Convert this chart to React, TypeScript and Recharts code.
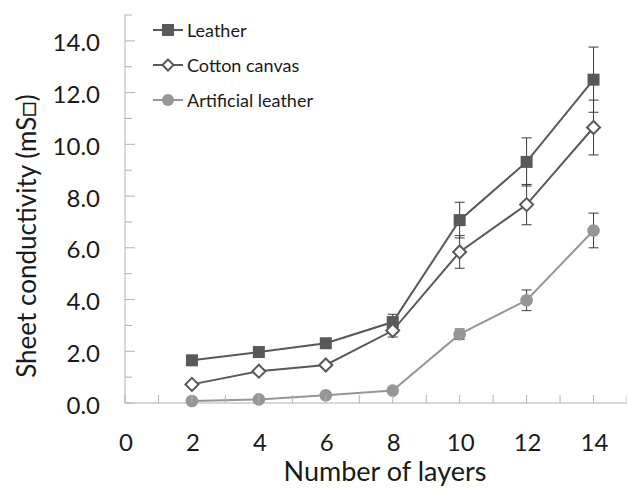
import React from "react";
import { LineChart, Line, XAxis, YAxis, ErrorBar, Legend } from "recharts";

const layers = [2, 4, 6, 8, 10, 12, 14];
const leather = [1.65, 1.97, 2.31, 3.13, 7.07, 9.32, 12.5];
const leatherErr = [0.08, 0.08, 0.15, 0.3, 0.69, 0.93, 1.26];
const cotton = [0.72, 1.23, 1.47, 2.8, 5.84, 7.67, 10.65];
const cottonErr = [0.08, 0.1, 0.1, 0.25, 0.63, 0.78, 1.06];
const artificial = [0.08, 0.14, 0.3, 0.48, 2.66, 3.97, 6.67];
const artificialErr = [0.03, 0.03, 0.05, 0.06, 0.2, 0.4, 0.67];

const xTicks = [0, 1, 2, 3, 4, 5, 6, 7, 8, 9, 10, 11, 12, 13, 14, 15];
const yTicks = [0, 1, 2, 3, 4, 5, 6, 7, 8, 9, 10, 11, 12, 13, 14, 15];

const seriesOrder = ["leather", "cotton", "artificial"];
const seriesNames: Record<string, string> = {
  leather: "Leather",
  cotton: "Cotton canvas",
  artificial: "Artificial leather",
};

const data = layers.map((l, i) => ({
  layers: l,
  leather: leather[i],
  leatherErr: leatherErr[i],
  cotton: cotton[i],
  cottonErr: cottonErr[i],
  artificial: artificial[i],
  artificialErr: artificialErr[i],
}));

const FONT = "Lato, 'Open Sans', sans-serif";
const AXIS = "#b3b3b3";
const DARK = "#595959";
const LIGHT = "#969696";
const TEXT = "#1a1a1a";

const YTick = (props: any) => {
  const { x, y, payload } = props;
  const v = payload.value;
  const major = v % 2 === 0;
  return (
    <g>
      <line x1={x} x2={x + (major ? 10 : 7)} y1={y} y2={y} stroke={AXIS} strokeWidth={1} />
      {major && (
        <text x={x - 25} y={y + 1} textAnchor="end" dominantBaseline="central" fontSize={24} fontFamily={FONT} fill={TEXT}>
          {v.toFixed(1)}
        </text>
      )}
    </g>
  );
};

const XTick = (props: any) => {
  const { x, y, payload } = props;
  const v = payload.value;
  const major = v % 2 === 0;
  return (
    <g>
      <line x1={x} x2={x} y1={y} y2={y - 8} stroke={AXIS} strokeWidth={1} />
      {major && (
        <text x={x + 1} y={y + 38} textAnchor="middle" dominantBaseline="central" fontSize={24} fontFamily={FONT} fill={TEXT}>
          {v}
        </text>
      )}
    </g>
  );
};

const SquareDot = (p: any) => (
  <rect key={`sq-${p.index}`} x={p.cx - 6} y={p.cy - 6} width={12} height={12} fill={DARK} />
);
const DiamondDot = (p: any) => (
  <polygon
    key={`di-${p.index}`}
    points={`${p.cx},${p.cy - 6.5} ${p.cx + 6.5},${p.cy} ${p.cx},${p.cy + 6.5} ${p.cx - 6.5},${p.cy}`}
    fill="#fff"
    stroke={DARK}
    strokeWidth={2}
  />
);
const CircleDot = (p: any) => <circle key={`ci-${p.index}`} cx={p.cx} cy={p.cy} r={6.3} fill={LIGHT} />;

const LegendIcon = ({ kind }: { kind: string }) => {
  const color = kind === "artificial" ? LIGHT : DARK;
  return (
    <svg width={30} height={16} style={{ display: "block" }}>
      <line x1={0} x2={30} y1={8} y2={8} stroke={color} strokeWidth={2} />
      {kind === "leather" && <rect x={9} y={2} width={12} height={12} fill={DARK} />}
      {kind === "cotton" && (
        <polygon points="15,2.5 20.5,8 15,13.5 9.5,8" fill="#fff" stroke={DARK} strokeWidth={2} />
      )}
      {kind === "artificial" && <circle cx={15} cy={8} r={6} fill={LIGHT} />}
    </svg>
  );
};

const renderLegend = (props: any) => {
  const payload = [...(props.payload || [])].sort(
    (a: any, b: any) => seriesOrder.indexOf(a.dataKey) - seriesOrder.indexOf(b.dataKey)
  );
  return (
    <div style={{ fontFamily: FONT, fontSize: 18, color: TEXT }}>
      {payload.map((entry: any) => (
        <div key={entry.dataKey} style={{ display: "flex", alignItems: "center", height: 35 }}>
          <LegendIcon kind={entry.dataKey} />
          <span style={{ marginLeft: 4, whiteSpace: "nowrap" }}>{entry.value}</span>
        </div>
      ))}
    </div>
  );
};

const YLabel = () => (
  <text
    x={26}
    y={236}
    transform="rotate(-90 26 236)"
    textAnchor="middle"
    dominantBaseline="central"
    fontSize={26}
    fontFamily={FONT}
    fill={TEXT}
  >
    Sheet conductivity (mS□)
  </text>
);

const XLabel = () => (
  <text x={385} y={470} textAnchor="middle" dominantBaseline="central" fontSize={27} fontFamily={FONT} fill={TEXT}>
    Number of layers
  </text>
);

export default function App() {
  return (
    <div style={{ position: "absolute", left: 0, top: 0, background: "#fff" }}>
      <LineChart width={627} height={489} data={data} margin={{ top: 15, right: 0, left: 0, bottom: 0 }}>
        <XAxis
          type="number"
          dataKey="layers"
          domain={[0, 15]}
          ticks={xTicks}
          interval={0}
          tickSize={0}
          tickMargin={0}
          tickLine={false}
          tick={<XTick />}
          axisLine={{ stroke: AXIS, strokeWidth: 1 }}
          height={86}
          label={<XLabel />}
        />
        <YAxis
          type="number"
          domain={[0, 15]}
          ticks={yTicks}
          interval={0}
          tickSize={0}
          tickMargin={0}
          tickLine={false}
          tick={<YTick />}
          axisLine={{ stroke: AXIS, strokeWidth: 1 }}
          width={125}
          label={<YLabel />}
        />
        <Legend
          layout="vertical"
          align="center"
          verticalAlign="middle"
          content={renderLegend}
          wrapperStyle={{ left: 153, top: 12, width: 220, height: 105 }}
        />
        <Line
          name={seriesNames.leather}
          dataKey="leather"
          stroke={DARK}
          strokeWidth={2}
          dot={SquareDot}
          isAnimationActive={false}
        >
          <ErrorBar dataKey="leatherErr" width={5} stroke="#3a3a3a" strokeWidth={1} direction="y" />
        </Line>
        <Line
          name={seriesNames.cotton}
          dataKey="cotton"
          stroke={DARK}
          strokeWidth={2}
          dot={DiamondDot}
          isAnimationActive={false}
        >
          <ErrorBar dataKey="cottonErr" width={5} stroke="#3a3a3a" strokeWidth={1} direction="y" />
        </Line>
        <Line
          name={seriesNames.artificial}
          dataKey="artificial"
          stroke={LIGHT}
          strokeWidth={2}
          dot={CircleDot}
          isAnimationActive={false}
        >
          <ErrorBar dataKey="artificialErr" width={5} stroke="#3a3a3a" strokeWidth={1} direction="y" />
        </Line>
      </LineChart>
    </div>
  );
}
